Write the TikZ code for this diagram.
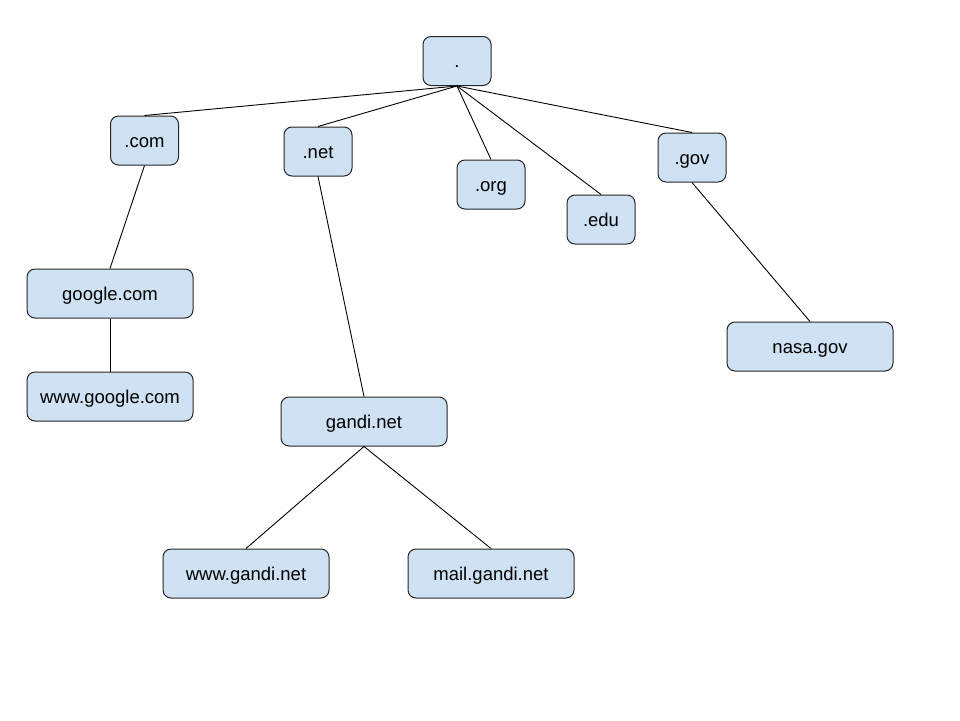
\documentclass[tikz,border=0pt]{standalone}
\usepackage{fontspec}
\setmainfont{Liberation Sans}
\begin{document}
\begin{tikzpicture}[x=1pt,y=-1pt,
  dnsbox/.style={draw=black!85, fill={rgb,255:red,207;green,226;blue,243}, line width=1pt,
    rounded corners=8pt, minimum height=49pt, inner sep=0pt,
    text height=13.4pt, text depth=0pt,
    font=\fontsize{18.5}{20}\selectfont},
  small/.style={dnsbox, minimum width=68pt},
  wide/.style={dnsbox, minimum width=166pt},
  link/.style={draw=black, line width=0.9pt}]
\useasboundingbox (0,0) rectangle (960,720);
\node[small] (root) at (457,61) {.};
\node[small] (com) at (144.5,140.5) {.com};
\node[small] (net) at (318,151.5) {.net};
\node[small] (org) at (491,184.5) {.org};
\node[small] (edu) at (601,219.5) {.edu};
\node[small] (gov) at (692,157.5) {.gov};
\node[wide] (google) at (110,293.5) {google.com};
\node[wide] (wwwgoogle) at (110,396.5) {www.google.com};
\node[wide] (nasa) at (810,346.5) {nasa.gov};
\node[wide] (gandi) at (364,421.5) {gandi.net};
\node[wide] (wwwgandi) at (246,573.5) {www.gandi.net};
\node[wide] (mail) at (491,573.5) {mail.gandi.net};
\draw[link] (root.south) -- (com.north);
\draw[link] (root.south) -- (net.north);
\draw[link] (root.south) -- (org.north);
\draw[link] (root.south) -- (edu.north);
\draw[link] (root.south) -- (gov.north);
\draw[link] (com.south) -- (google.north);
\draw[link] (google.south) -- (wwwgoogle.north);
\draw[link] (net.south) -- (gandi.north);
\draw[link] (gov.south) -- (nasa.north);
\draw[link] (gandi.south) -- (wwwgandi.north);
\draw[link] (gandi.south) -- (mail.north);
\end{tikzpicture}
\end{document}
